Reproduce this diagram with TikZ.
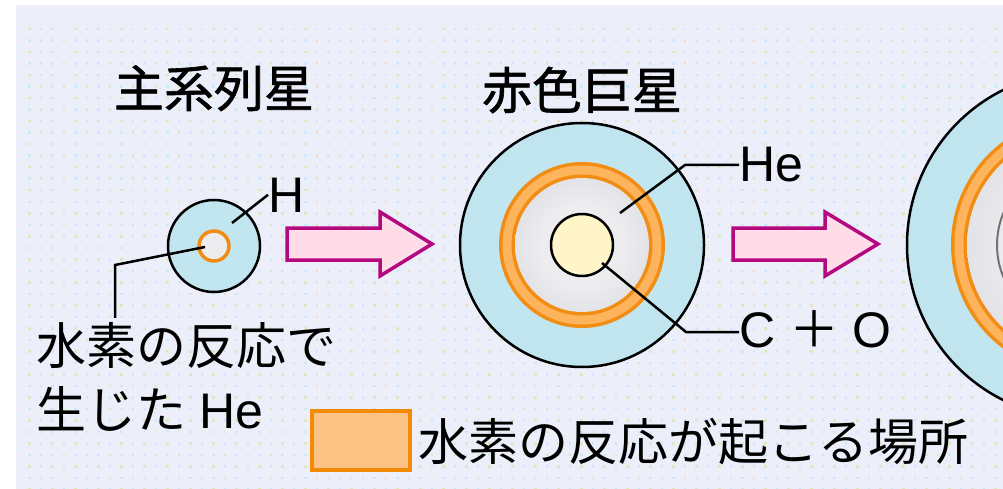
\documentclass[tikz,border=0pt]{standalone}
\usepackage{fontspec}
\setmainfont{Liberation Sans}
\newfontfamily\jp{Noto Sans CJK JP}
\newfontfamily\jpb[FakeBold=1.2]{Noto Sans CJK JP}
\usetikzlibrary{calc}

\definecolor{panel}{HTML}{ECEEFA}
\definecolor{dotY}{HTML}{DFE8C2}
\definecolor{dotC}{HTML}{CDE9F3}
\definecolor{shellIn}{HTML}{C2E6F0}
\definecolor{shellOut}{HTML}{A3D6E5}
\definecolor{ringO}{HTML}{F28C12}
\definecolor{ringL}{HTML}{FDB45C}
\definecolor{grayIn}{HTML}{EDEDF0}
\definecolor{grayOut}{HTML}{C9CBD0}
\definecolor{coreY}{HTML}{FFF5C8}
\definecolor{arrowLine}{HTML}{B3087E}
\definecolor{arrowFill}{HTML}{FFDCE8}
\definecolor{legO}{HTML}{F28A05}
\definecolor{legFill}{HTML}{FBC384}

\pgfdeclareradialshading{shellshade}{\pgfpointorigin}{color(0bp)=(shellIn); color(22bp)=(shellIn); color(50bp)=(shellOut)}
\pgfdeclareradialshading{heshade}{\pgfpointorigin}{color(0bp)=(grayIn); color(15bp)=(grayIn); color(50bp)=(grayOut)}

\tikzset{
  disc/.style={circle, inner sep=0pt, outer sep=0pt, minimum size=#1},
  rim/.style={draw=black, line width=2.5pt},
  leader/.style={draw=black, line width=2.5pt},
  bigarrow/.style={draw=arrowLine, fill=arrowFill, line width=3.5pt, line join=miter},
  txt/.style={inner sep=0pt, outer sep=0pt, anchor=base west, font=\fontsize{50}{60}\selectfont},
  ttl/.style={inner sep=0pt, outer sep=0pt, anchor=base, font=\jpb\fontsize{50}{60}\selectfont},
}

\begin{document}
\begin{tikzpicture}[x=1pt, y=-1pt]
\useasboundingbox (0,0) rectangle (1003,489);
\fill[white] (0,0) rectangle (1003,489);
\fill[panel] (16,5) rectangle (1003,489);

% fine dot screen of the panel
\foreach \x in {28,51,...,1003} {
  \foreach \y in {28,51,...,489} {
    \fill[dotY] (\x,\y) rectangle ++(2.5,2.5);
    \fill[dotC] (\x+11.5,\y) rectangle ++(2.5,2.5);
    \fill[dotC] (\x,\y+11.5) rectangle ++(2.5,2.5);
    \fill[dotY] (\x+11.5,\y+11.5) rectangle ++(2.5,2.5);
  }
}

\begin{scope}
\clip (16,5) rectangle (1003,489);

% main-sequence star
\node[disc=92pt, rim, shading=shellshade] (ms) at (214,246) {};
\node[disc=30pt, draw=ringO, line width=3.5pt, fill=grayIn] (mscore) at (214,246) {};

% red giant
\node[disc=244pt, rim, shading=shellshade] (rg) at (582,245) {};
\node[disc=166pt, fill=ringO] (rgringA) at (582,245) {};
\node[disc=159pt, fill=ringL] (rgringB) at (582,245) {};
\node[disc=141pt, fill=ringO] (rgringC) at (582,245) {};
\node[disc=134pt, shading=heshade] (rghe) at (582,245) {};
\node[disc=62pt, rim, fill=coreY] (rgcore) at (582,245) {};

% next stage, running off the edge
\node[disc=346pt, rim, shading=shellshade] (ns) at (1080,245) {};
\node[disc=258pt, fill=ringO] (nsringA) at (1080,245) {};
\node[disc=251pt, fill=ringL] (nsringB) at (1080,245) {};
\node[disc=233pt, fill=ringO] (nsringC) at (1080,245) {};
\node[disc=226pt, shading=heshade] (nshe) at (1080,245) {};
\node[disc=166pt, draw=black!55, line width=2pt] (nscore) at (1080,245) {};
\end{scope}

% titles
\node[ttl] (t1) at (214,107) {主系列星};
\node[ttl] (t2) at (582,109) {赤色巨星};

% labels
\node[txt] (H) at (268,212) {H};
\node[txt] (lab1) at (36,364) {\jp 水素の反応で};
\node[txt] (lab2) at (36,428) {{\jp 生じた}\hspace{13pt}He};
\node[txt] (He) at (739,182) {He};
\node[txt] (CO) at (739,347) {C {\jp ＋} O};

% leader lines
\coordinate (msHa) at (232,223);
\draw[leader] (msHa) -- (H.west);
\coordinate (msHeA) at (205,247);
\coordinate (msHeB) at (115,265);
\draw[leader] (msHeA) -- (msHeB) -- ($(msHeB |- lab1.north)+(0,-4)$);
\coordinate (rgHeA) at (620,213);
\coordinate (rgHeB) at (685,165);
\draw[leader] (rgHeA) -- (rgHeB) -- (rgHeB -| He.west);
\coordinate (rgCOA) at (602,263);
\coordinate (rgCOB) at (686,332);
\draw[leader] (rgCOA) -- (rgCOB) -- (rgCOB -| CO.west);

% evolution arrows
\coordinate (arA) at (287,244);
\draw[bigarrow] (arA) ++(0,-16) -- ++(93,0) -- ++(0,-16) -- ++(52,32) -- ++(-52,32) -- ++(0,-16) -- ++(-93,0) -- cycle;
\coordinate (arB) at (733,244);
\draw[bigarrow] (arB) ++(0,-16) -- ++(92,0) -- ++(0,-16) -- ++(53,32) -- ++(-53,32) -- ++(0,-16) -- ++(-92,0) -- cycle;

% legend
\node[draw=legO, line width=4pt, fill=legFill, minimum width=98pt, minimum height=59pt, inner sep=0pt] (legbox) at (361,440.5) {};
\node[txt] (legtxt) at (418,460) {\jp 水素の反応が起こる場所};
\end{tikzpicture}
\end{document}
